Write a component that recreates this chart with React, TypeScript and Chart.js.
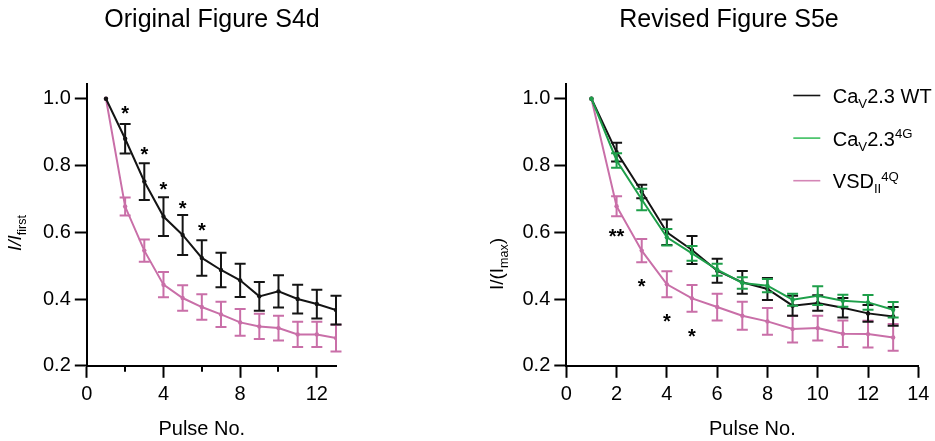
import React, { useEffect, useRef } from "react";
import { Chart, registerables } from "chart.js";
Chart.register(...registerables);

const FONT = '"Liberation Sans", Arial, Helvetica, sans-serif';
const BLACK = "#141414";
const PINK = "#c96fa8";
const GREEN = "#1e9f4a";
const LEGEND_GREEN = "#3cbf5f";
const LEGEND_PINK = "#d486b6";

// ---------- data ----------
const pulses = [1, 2, 3, 4, 5, 6, 7, 8, 9, 10, 11, 12, 13];

// Original Figure S4d
const origWT = [1.0, 0.88, 0.752, 0.647, 0.592, 0.523, 0.487, 0.456, 0.408, 0.423, 0.4, 0.385, 0.367];
const origWTErr = [0, 0.044, 0.055, 0.058, 0.06, 0.053, 0.052, 0.05, 0.043, 0.048, 0.043, 0.043, 0.043];
const origVSD = [1.0, 0.677, 0.545, 0.443, 0.403, 0.376, 0.354, 0.33, 0.318, 0.313, 0.294, 0.294, 0.283];
const origVSDErr = [0, 0.027, 0.033, 0.038, 0.038, 0.038, 0.038, 0.04, 0.038, 0.037, 0.038, 0.038, 0.04];
const origStarX = [2, 3, 4, 5, 6];
const origStarY = [0.971, 0.849, 0.742, 0.687, 0.62];
const origStarText = ["*", "*", "*", "*", "*"];

// Revised Figure S5e
const revWT = [1.0, 0.84, 0.722, 0.6, 0.547, 0.485, 0.45, 0.43, 0.38, 0.388, 0.374, 0.357, 0.348];
const revWTErr = [0, 0.028, 0.02, 0.038, 0.042, 0.036, 0.034, 0.033, 0.03, 0.023, 0.029, 0.025, 0.028];
const rev4G = [1.0, 0.815, 0.698, 0.585, 0.537, 0.488, 0.448, 0.44, 0.398, 0.41, 0.395, 0.39, 0.368];
const rev4GErr = [0, 0.022, 0.032, 0.025, 0.022, 0.018, 0.017, 0.02, 0.018, 0.028, 0.018, 0.022, 0.023];
const revVSD = [1.0, 0.678, 0.545, 0.444, 0.402, 0.376, 0.35, 0.333, 0.31, 0.313, 0.296, 0.295, 0.285];
const revVSDErr = [0, 0.03, 0.035, 0.039, 0.04, 0.04, 0.042, 0.04, 0.04, 0.037, 0.04, 0.04, 0.04];
const revStarX = [2, 3, 4, 5];
const revStarY = [0.602, 0.454, 0.349, 0.302];
const revStarText = ["**", "*", "*", "*"];

const yTicksMin = 0.2;
const yTicksMax = 1.045;

// ---------- helpers ----------
type Part = { t: string; k?: "sub" | "sup"; it?: boolean };

function drawRich(ctx: CanvasRenderingContext2D, x: number, y: number, parts: Part[], size: number) {
  let cx = x;
  for (const p of parts) {
    const s = p.k ? size * 0.66 : size;
    ctx.font = `${p.it ? "italic " : ""}${s}px ${FONT}`;
    const dy = p.k === "sub" ? size * 0.26 : p.k === "sup" ? -size * 0.36 : 0;
    ctx.fillText(p.t, cx, y + dy);
    cx += ctx.measureText(p.t).width;
  }
}
function richWidth(ctx: CanvasRenderingContext2D, parts: Part[], size: number) {
  let w = 0;
  for (const p of parts) {
    const s = p.k ? size * 0.66 : size;
    ctx.font = `${p.it ? "italic " : ""}${s}px ${FONT}`;
    w += ctx.measureText(p.t).width;
  }
  return w;
}

function series(vals: number[], errs: number[], color: string, label: string, order: number) {
  return {
    label,
    data: pulses.map((p, i) => ({ x: p, y: vals[i] })),
    errors: errs,
    borderColor: color,
    backgroundColor: color,
    borderWidth: 2,
    pointRadius: 2.2,
    pointHoverRadius: 2.2,
    pointBorderWidth: 0,
    tension: 0,
    order,
  } as any;
}

type Extra = {
  title: string;
  titleX: number;
  yLabel: Part[];
  yLabelX: number;
  yLabelCY: number;
  xLabelValue: number;
  starX: number[];
  starY: number[];
  starText: string[];
  minorTicks: number[];
  legend?: { label: Part[]; color: string }[];
  legendX?: number;
  legendY?: number;
};

function makePlugin(ex: Extra) {
  return {
    id: "overlay",
    afterDatasetDraw(chart: any, args: any) {
      const ds = chart.data.datasets[args.index];
      const errs: number[] = ds.errors;
      const ys = chart.scales.y;
      const ctx: CanvasRenderingContext2D = chart.ctx;
      ctx.save();
      ctx.strokeStyle = ds.borderColor;
      ctx.lineWidth = 2;
      const cap = 5.5;
      args.meta.data.forEach((pt: any, i: number) => {
        const e = errs[i];
        if (!e) return;
        const v = ds.data[i].y;
        const t = ys.getPixelForValue(v + e);
        const b = ys.getPixelForValue(v - e);
        ctx.beginPath();
        ctx.moveTo(pt.x, t);
        ctx.lineTo(pt.x, b);
        ctx.moveTo(pt.x - cap, t);
        ctx.lineTo(pt.x + cap, t);
        ctx.moveTo(pt.x - cap, b);
        ctx.lineTo(pt.x + cap, b);
        ctx.stroke();
      });
      ctx.restore();
    },
    afterDraw(chart: any) {
      const ctx: CanvasRenderingContext2D = chart.ctx;
      const xs = chart.scales.x;
      const ys = chart.scales.y;
      const area = chart.chartArea;
      ctx.save();
      ctx.fillStyle = "#000";
      ctx.textAlign = "left";
      ctx.textBaseline = "alphabetic";

      // title
      ctx.font = `25px ${FONT}`;
      ctx.textAlign = "center";
      ctx.fillText(ex.title, ex.titleX, 27);

      // x axis title
      ctx.font = `20px ${FONT}`;
      ctx.fillText("Pulse No.", xs.getPixelForValue(ex.xLabelValue), 435);

      // minor ticks
      ctx.strokeStyle = "#000";
      ctx.lineWidth = 2;
      ex.minorTicks.forEach((v) => {
        const px = Math.round(xs.getPixelForValue(v));
        ctx.beginPath();
        ctx.moveTo(px, area.bottom);
        ctx.lineTo(px, area.bottom + 6);
        ctx.stroke();
      });

      // stars
      ctx.font = `bold 20px ${FONT}`;
      ctx.textAlign = "center";
      ex.starX.forEach((x, i) => {
        const px = xs.getPixelForValue(x);
        const py = ys.getPixelForValue(ex.starY[i]);
        ctx.fillText(ex.starText[i], px, py + 20 * 0.575);
      });

      // y axis label (rotated)
      ctx.textAlign = "left";
      const yl = 19;
      const w = richWidth(ctx, ex.yLabel, yl);
      ctx.save();
      ctx.translate(ex.yLabelX, ex.yLabelCY);
      ctx.rotate(-Math.PI / 2);
      drawRich(ctx, -w / 2, 0, ex.yLabel, yl);
      ctx.restore();

      // legend
      if (ex.legend) {
        ex.legend.forEach((it, i) => {
          const base = (ex.legendY as number) + i * 42.6;
          ctx.strokeStyle = it.color;
          ctx.lineWidth = 1.6;
          ctx.beginPath();
          ctx.moveTo(ex.legendX as number, base - 7.5);
          ctx.lineTo((ex.legendX as number) + 27, base - 7.5);
          ctx.stroke();
          ctx.fillStyle = "#000";
          drawRich(ctx, (ex.legendX as number) + 39.5, base, it.label, 20);
        });
      }
      ctx.restore();
    },
  };
}

function buildConfig(opts: {
  datasets: any[];
  xMax: number;
  xLabel: (v: number) => string;
  yAxisW: number;
  padRight: number;
  plugin: any;
  majorTick: (v: number) => boolean;
}) {
  const canvasH = 441;
  const bottomPx = 365.8;
  return {
    type: "line",
    data: { datasets: opts.datasets },
    options: {
      animation: false,
      responsive: false,
      maintainAspectRatio: false,
      events: [],
      layout: { padding: { top: 83.7, left: 0, right: opts.padRight, bottom: 0 } },
      plugins: { legend: { display: false }, title: { display: false }, tooltip: { enabled: false } },
      scales: {
        x: {
          type: "linear",
          min: 0,
          max: opts.xMax,
          afterFit: (s: any) => {
            s.height = canvasH - bottomPx;
          },
          border: { color: "#000", width: 2 },
          grid: {
            drawOnChartArea: false,
            drawTicks: true,
            tickLength: 12,
            tickWidth: 2,
            tickColor: (c: any) => (opts.majorTick(c.tick.value) ? "#000" : "rgba(0,0,0,0)"),
          },
          ticks: {
            stepSize: 2,
            includeBounds: false,
            autoSkip: false,
            maxRotation: 0,
            padding: 5,
            color: "#000",
            font: { size: 20, family: FONT },
            callback: (v: any) => opts.xLabel(Number(v)),
          },
        },
        y: {
          type: "linear",
          min: yTicksMin,
          max: yTicksMax,
          afterFit: (s: any) => {
            s.width = opts.yAxisW;
          },
          border: { color: "#000", width: 2 },
          grid: {
            drawOnChartArea: false,
            drawTicks: true,
            tickLength: 12,
            tickWidth: 2,
            tickColor: "#000",
          },
          ticks: {
            stepSize: 0.2,
            includeBounds: false,
            padding: 4,
            color: "#000",
            font: { size: 20, family: FONT },
            callback: (v: any) => Number(v).toFixed(1),
          },
        },
      },
    },
    plugins: [opts.plugin],
  } as any;
}

function LeftChart() {
  const ref = useRef<HTMLCanvasElement>(null);
  useEffect(() => {
    const plugin = makePlugin({
      title: "Original Figure S4d",
      titleX: 212,
      yLabel: [{ t: "I/I", it: true }, { t: "first", k: "sub" }],
      yLabelX: 21,
      yLabelCY: 233,
      xLabelValue: 6,
      starX: origStarX,
      starY: origStarY,
      starText: origStarText,
      minorTicks: [2, 6, 10],
    });
    const chart = new Chart(
      ref.current as HTMLCanvasElement,
      buildConfig({
        datasets: [
          series(origWT, origWTErr, BLACK, "WT", 0),
          series(origVSD, origVSDErr, PINK, "VSD", 1),
        ],
        xMax: 13,
        xLabel: (v) => (v % 4 === 0 ? String(v) : ""),
        yAxisW: 86.8,
        padRight: 467 - 336,
        plugin,
        majorTick: (v) => v % 4 === 0,
      })
    );
    return () => chart.destroy();
  }, []);
  return (
    <canvas ref={ref} width={467} height={441} style={{ position: "absolute", left: 0, top: 0, width: 467, height: 441 }} />
  );
}

function RightChart() {
  const ref = useRef<HTMLCanvasElement>(null);
  useEffect(() => {
    const plugin = makePlugin({
      title: "Revised Figure S5e",
      titleX: 729 - 467,
      yLabel: [{ t: "I/(I" }, { t: "max", k: "sub" }, { t: ")" }],
      yLabelX: 503 - 467,
      yLabelCY: 264,
      xLabelValue: 7.4,
      starX: revStarX,
      starY: revStarY,
      starText: revStarText,
      minorTicks: [],
      legend: [
        { label: [{ t: "Ca" }, { t: "V", k: "sub" }, { t: "2.3 WT" }], color: BLACK },
        { label: [{ t: "Ca" }, { t: "V", k: "sub" }, { t: "2.3" }, { t: "4G", k: "sup" }], color: LEGEND_GREEN },
        { label: [{ t: "VSD" }, { t: "II", k: "sub" }, { t: "4Q", k: "sup" }], color: LEGEND_PINK },
      ],
      legendX: 793.3 - 467,
      legendY: 103,
    });
    const chart = new Chart(
      ref.current as HTMLCanvasElement,
      buildConfig({
        datasets: [
          series(rev4G, rev4GErr, GREEN, "Cav2.3 4G", 0),
          series(revWT, revWTErr, BLACK, "Cav2.3 WT", 1),
          series(revVSD, revVSDErr, PINK, "VSDII 4Q", 2),
        ],
        xMax: 14,
        xLabel: (v) => String(v),
        yAxisW: 566.3 - 467,
        padRight: 468 - (918.3 - 467),
        plugin,
        majorTick: () => true,
      })
    );
    return () => chart.destroy();
  }, []);
  return (
    <canvas ref={ref} width={468} height={441} style={{ position: "absolute", left: 467, top: 0, width: 468, height: 441 }} />
  );
}

export default function App() {
  return (
    <div style={{ position: "absolute", left: 0, top: 0, width: 935, height: 441, background: "#fff", overflow: "hidden" }}>
      <LeftChart />
      <RightChart />
    </div>
  );
}
